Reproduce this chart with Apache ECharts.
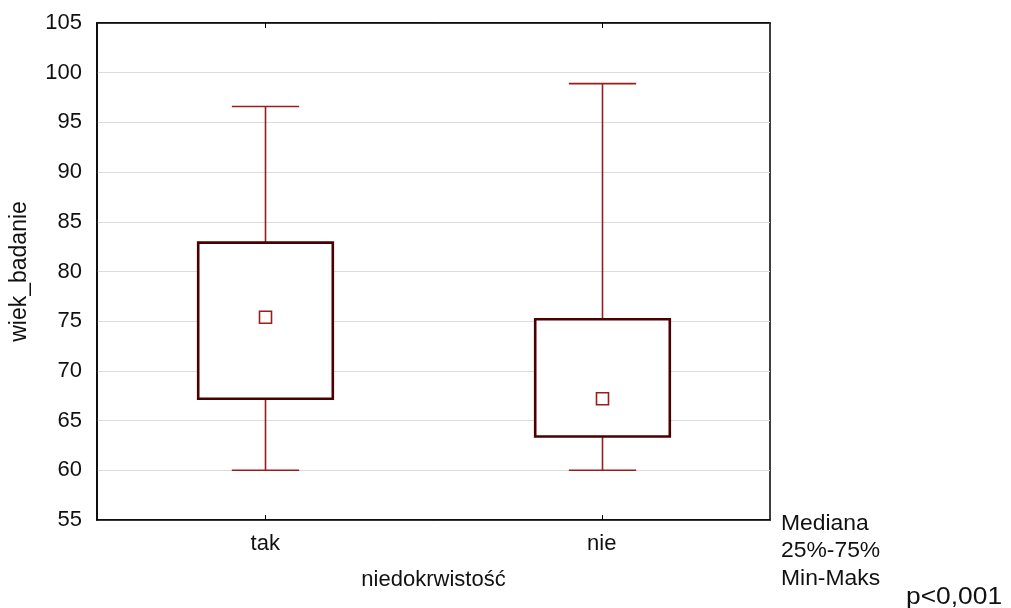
<!DOCTYPE html>
<html>
<head>
<meta charset="utf-8">
<script src="https://cdn.jsdelivr.net/npm/echarts@6/dist/echarts.min.js"></script>
<style>html,body{margin:0;padding:0;background:#fff}#c{width:1011px;height:608px}</style>
</head>
<body>
<div id="c"></div>
<script>
const categories = ['tak', 'nie'];
const minVals = [60, 60];
const q1Vals = [67.2, 63.4];
const medianVals = [75.4, 67.2];
const q3Vals = [82.9, 75.2];
const maxVals = [96.6, 98.9];
const yTicks = [55, 60, 65, 70, 75, 80, 85, 90, 95, 100, 105];
const legendLines = ['Mediana', '25%-75%', 'Min-Maks'];
const pText = 'p<0,001';

const FONT = '"Liberation Sans", Arial, sans-serif';
const boxColor = '#4a0000';
const whiskerColor = '#9b1c1c';

const data = categories.map((c, i) => [i, minVals[i], q1Vals[i], medianVals[i], q3Vals[i], maxVals[i]]);

const chart = echarts.init(document.getElementById('c'), null, {renderer: 'canvas'});

function renderItem(params, api) {
  const idx = api.value(0);
  const band = api.size([1, 0])[0];
  const boxW = band * 0.4;
  const capW = band * 0.2;
  const pMin = api.coord([idx, api.value(1)]);
  const pQ1 = api.coord([idx, api.value(2)]);
  const pMed = api.coord([idx, api.value(3)]);
  const pQ3 = api.coord([idx, api.value(4)]);
  const pMax = api.coord([idx, api.value(5)]);
  const x = Math.round(pMin[0]) + 0.5;
  const ws = {stroke: whiskerColor, lineWidth: 1.6, fill: null};
  const ms = 12;
  return {
    type: 'group',
    children: [
      {type: 'line', shape: {x1: x, y1: pMax[1], x2: x, y2: pQ3[1]}, style: ws},
      {type: 'line', shape: {x1: x, y1: pQ1[1], x2: x, y2: pMin[1]}, style: ws},
      {type: 'line', shape: {x1: x - capW / 2, y1: pMax[1], x2: x + capW / 2, y2: pMax[1]}, style: ws},
      {type: 'line', shape: {x1: x - capW / 2, y1: pMin[1], x2: x + capW / 2, y2: pMin[1]}, style: ws},
      {type: 'rect', shape: {x: x - boxW / 2, y: pQ3[1], width: boxW, height: pQ1[1] - pQ3[1]},
        style: {stroke: boxColor, lineWidth: 2.6, fill: '#fff'}},
      {type: 'rect', shape: {x: x - ms / 2, y: pMed[1] - ms / 2, width: ms, height: ms},
        style: {stroke: whiskerColor, lineWidth: 1.6, fill: '#fff'}}
    ]
  };
}

chart.setOption({
  animation: false,
  backgroundColor: '#fff',
  textStyle: {fontFamily: FONT},
  grid: {left: 95, top: 23, right: 241, bottom: 88, show: true, borderColor: '#000', borderWidth: 1.5, backgroundColor: 'transparent'},
  xAxis: [{
    type: 'category',
    data: categories,
    boundaryGap: true,
    position: 'bottom',
    axisLine: {show: true, lineStyle: {color: '#000', width: 1.5}},
    axisTick: {show: true, inside: true, alignWithLabel: true, length: 5, lineStyle: {color: '#000'}},
    axisLabel: {color: '#111', fontSize: 22, margin: 13, fontFamily: FONT},
    splitLine: {show: false},
    name: 'niedokrwistość',
    nameLocation: 'middle',
    nameGap: 49,
    nameTextStyle: {color: '#111', fontSize: 22, fontFamily: FONT}
  }, {
    type: 'category',
    data: categories,
    boundaryGap: true,
    position: 'top',
    axisLine: {show: true, lineStyle: {color: '#000', width: 1.5}},
    axisTick: {show: true, inside: true, alignWithLabel: true, length: 5, lineStyle: {color: '#000'}},
    axisLabel: {show: false}
  }],
  yAxis: {
    type: 'value',
    min: yTicks[0],
    max: yTicks[yTicks.length - 1],
    interval: 5,
    axisLine: {show: true, lineStyle: {color: '#000', width: 1.5}},
    axisTick: {show: false},
    axisLabel: {color: '#111', fontSize: 22, margin: 15, fontFamily: FONT},
    splitLine: {show: true, lineStyle: {color: '#dcdcdc', width: 1}},
    name: 'wiek_badanie',
    nameLocation: 'middle',
    nameGap: 66,
    nameRotate: 90,
    nameTextStyle: {color: '#111', fontSize: 23, fontFamily: FONT}
  },
  graphic: [
    {type: 'text', x: 781, y: 510, scaleX: 1.04, scaleY: 1,
      style: {x: 0, y: 0, text: legendLines.join('\n'), font: '22px ' + FONT, fill: '#111', lineHeight: 27.5}},
    {type: 'text', x: 906, y: 584, scaleX: 1.1, scaleY: 1,
      style: {x: 0, y: 0, text: pText, font: '24px ' + FONT, fill: '#111', lineHeight: 26}}
  ],
  series: [{
    type: 'custom',
    xAxisIndex: 0,
    renderItem: renderItem,
    encode: {x: 0, y: [1, 2, 3, 4, 5]},
    data: data,
    z: 5
  }]
});
</script>
</body>
</html>
